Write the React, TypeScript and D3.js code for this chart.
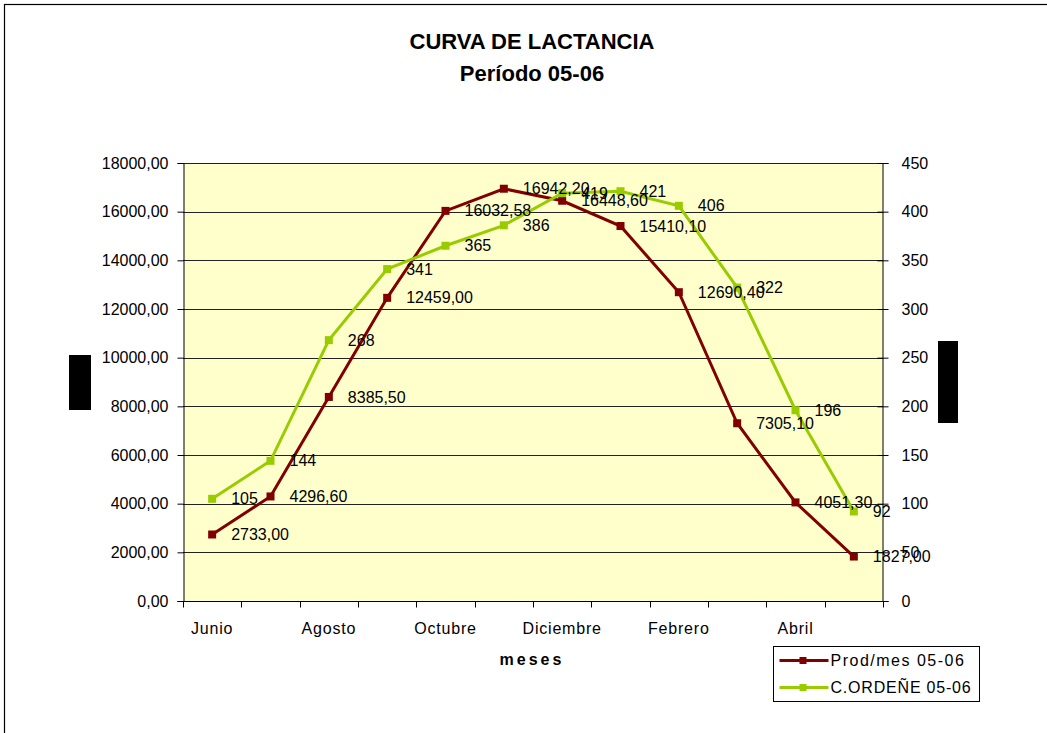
import React, { useRef, useEffect } from "react";
import * as d3 from "d3";

// Meses del periodo
const months = [
  "Junio", "Julio", "Agosto", "Septiembre", "Octubre", "Noviembre",
  "Diciembre", "Enero", "Febrero", "Marzo", "Abril", "Mayo",
];
const shownMonths = ["Junio", "Agosto", "Octubre", "Diciembre", "Febrero", "Abril"];

// Producción por mes (eje izquierdo)
const prodMes = [
  2733.0, 4296.6, 8385.5, 12459.0, 16032.58, 16942.2,
  16448.6, 15410.1, 12690.4, 7305.1, 4051.3, 1827.0,
];
// Cantidad de ordeñe (eje derecho)
const cOrdene = [105, 144, 268, 341, 365, 386, 419, 421, 406, 322, 196, 92];

const leftTicks = [0, 2000, 4000, 6000, 8000, 10000, 12000, 14000, 16000, 18000];
const rightTicks = [0, 50, 100, 150, 200, 250, 300, 350, 400, 450];

const RED = "#800000";
const GREEN = "#99CC00";
const FONT = "'Liberation Sans', Arial, sans-serif";

const fmt2 = (d: number) => d.toFixed(2).replace(".", ",");

const LactanciaChart = ({ width = 1047, height = 733 }) => {
  const ref = useRef<SVGSVGElement>(null);

  useEffect(() => {
    const container = ref.current;
    if (!container) return;
    d3.select(container).selectChildren().remove();

    const svg = d3.select(container).style("font-family", FONT);
    const left = 183, right = 883, top = 163, bottom = 601;

    // Marco exterior
    svg
      .append("rect")
      .attr("x", 4.5)
      .attr("y", 4.5)
      .attr("width", width + 20)
      .attr("height", height + 20)
      .attr("fill", "white")
      .attr("stroke", "black")
      .attr("stroke-width", 1.2);

    // Título
    const title = svg
      .append("text")
      .attr("text-anchor", "middle")
      .attr("font-weight", "bold")
      .attr("font-size", 22);
    title.append("tspan").attr("x", 532).attr("y", 49).text("CURVA DE LACTANCIA");
    title.append("tspan").attr("x", 532).attr("y", 81).text("Período 05-06");

    const x = d3.scaleBand().domain(months).range([left, right]);
    const yL = d3.scaleLinear().domain([0, 18000]).range([bottom, top]);
    const yR = d3.scaleLinear().domain([0, 450]).range([bottom, top]);

    // Área del gráfico
    svg
      .append("rect")
      .attr("x", left)
      .attr("y", top)
      .attr("width", right - left)
      .attr("height", bottom - top)
      .attr("fill", "#FFFFCC");

    // Rejilla
    svg
      .append("g")
      .selectAll("line")
      .data(leftTicks.slice(1))
      .join("line")
      .attr("x1", left)
      .attr("x2", right)
      .attr("y1", (d) => Math.round(yL(d)) + 0.5)
      .attr("y2", (d) => Math.round(yL(d)) + 0.5)
      .attr("stroke", "#222")
      .attr("stroke-width", 1);

    // Eje izquierdo
    const gL = svg.append("g").attr("transform", `translate(${left + 0.5},0)`);
    gL.call(
      d3
        .axisLeft(yL)
        .tickValues(leftTicks)
        .tickFormat((d) => fmt2(+d))
        .tickSize(6)
        .tickPadding(9)
    );
    gL.select(".domain").attr("stroke", "black");
    gL.selectAll("text").attr("font-size", 16).attr("font-family", FONT).attr("fill", "black");

    // Eje derecho
    const gR = svg.append("g").attr("transform", `translate(${right - 0.5},0)`);
    gR.call(
      d3
        .axisRight(yR)
        .tickValues(rightTicks)
        .tickFormat((d) => `${d}`)
        .tickSize(6)
        .tickPadding(13)
    );
    gR.selectAll(".tick line").attr("x1", -5);
    gR.selectAll("text").attr("font-size", 16).attr("font-family", FONT).attr("fill", "black");

    // Eje X
    const gX = svg.append("g").attr("transform", `translate(0,${bottom + 0.5})`);
    gX.append("line").attr("x1", left).attr("x2", right).attr("stroke", "black");
    const boundaries = months.map((m) => x(m) as number).concat([right]);
    gX
      .selectAll("line.tk")
      .data(boundaries)
      .join("line")
      .attr("class", "tk")
      .attr("x1", (d) => Math.round(d) + 0.5)
      .attr("x2", (d) => Math.round(d) + 0.5)
      .attr("y1", 0)
      .attr("y2", 6)
      .attr("stroke", "black");
    gX
      .selectAll("text")
      .data(shownMonths)
      .join("text")
      .attr("x", (d) => (x(d) as number) + x.bandwidth() / 2)
      .attr("y", 32)
      .attr("text-anchor", "middle")
      .attr("font-size", 16)
      .attr("letter-spacing", 0.8)
      .text((d) => d);

    // Rótulo eje X
    svg
      .append("text")
      .attr("x", 532)
      .attr("y", 665)
      .attr("text-anchor", "middle")
      .attr("font-weight", "bold")
      .attr("font-size", 16)
      .attr("letter-spacing", 3)
      .text("meses");

    // Rótulos de ejes Y (tapados)
    svg.append("rect").attr("x", 69).attr("y", 355).attr("width", 22).attr("height", 55).attr("fill", "black");
    svg.append("rect").attr("x", 938).attr("y", 341).attr("width", 20).attr("height", 82).attr("fill", "black");

    const cx = (i: number) => (x(months[i]) as number) + x.bandwidth() / 2;

    const series = [
      { values: prodMes, y: yL, color: RED, format: fmt2 },
      { values: cOrdene, y: yR, color: GREEN, format: (d: number) => `${d}` },
    ];

    series.forEach((s) => {
      const line = d3
        .line<number>()
        .x((_d, i) => cx(i))
        .y((d) => s.y(d));
      svg
        .append("path")
        .datum(s.values)
        .attr("d", line)
        .attr("fill", "none")
        .attr("stroke", s.color)
        .attr("stroke-width", 3);
      svg
        .append("g")
        .selectAll("rect")
        .data(s.values)
        .join("rect")
        .attr("x", (_d, i) => cx(i) - 4)
        .attr("y", (d) => s.y(d) - 4)
        .attr("width", 8)
        .attr("height", 8)
        .attr("fill", s.color);
    });

    // Etiquetas de datos
    series.forEach((s) => {
      svg
        .append("g")
        .selectAll("text")
        .data(s.values)
        .join("text")
        .attr("x", (_d, i) => cx(i) + 19)
        .attr("y", (d) => s.y(d))
        .attr("dy", "0.35em")
        .attr("font-size", 16)
        .attr("fill", "black")
        .text((d) => s.format(d));
    });

    // Leyenda
    const lg = svg.append("g").attr("transform", "translate(773.5,646.5)");
    lg.append("rect")
      .attr("width", 206)
      .attr("height", 55)
      .attr("fill", "white")
      .attr("stroke", "black");
    const items = [
      { label: "Prod/mes 05-06", color: RED, spacing: 1.5 },
      { label: "C.ORDEÑE 05-06", color: GREEN, spacing: 0.8 },
    ];
    items.forEach((it, i) => {
      const yy = 14 + i * 27;
      lg.append("line")
        .attr("x1", 6)
        .attr("x2", 55)
        .attr("y1", yy)
        .attr("y2", yy)
        .attr("stroke", it.color)
        .attr("stroke-width", 3);
      lg.append("rect")
        .attr("x", 26)
        .attr("y", yy - 3.5)
        .attr("width", 7)
        .attr("height", 7)
        .attr("fill", it.color);
      lg.append("text")
        .attr("x", 57)
        .attr("y", yy)
        .attr("dy", "0.35em")
        .attr("font-size", 16)
        .attr("letter-spacing", it.spacing)
        .text(it.label);
    });
  }, [width, height]);

  return <svg ref={ref} width={width} height={height} />;
};

export default function App() {
  return (
    <div style={{ position: "absolute", left: 0, top: 0 }}>
      <LactanciaChart />
    </div>
  );
}
